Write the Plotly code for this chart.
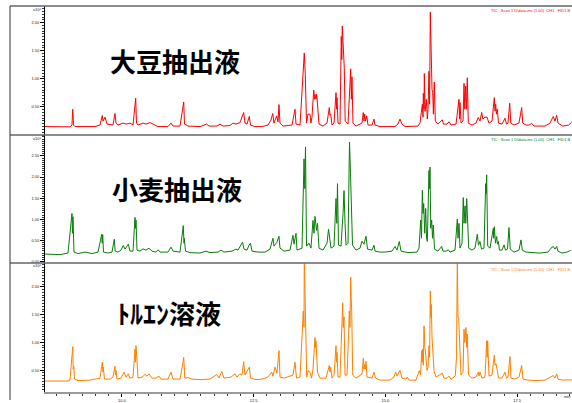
import plotly.graph_objects as go

# ---- chromatogram data: retention time (min) and intensity (x10^6 counts) ----
rt_soy = [8.540, 9.014, 9.052, 9.066, 9.081, 9.109, 9.489, 9.584, 9.627, 9.641, 9.679, 9.717, 9.830, 9.868, 9.887,
          9.925, 10.020, 10.077, 10.153, 10.210, 10.261, 10.276, 10.305, 10.400, 10.456, 10.532, 10.589, 10.684,
          10.874, 10.931, 10.969, 11.102, 11.172, 11.187, 11.254, 11.481, 11.608, 11.652, 11.804, 11.861, 11.918,
          12.050, 12.107, 12.164, 12.240, 12.310, 12.335, 12.373, 12.417, 12.439, 12.525, 12.658, 12.771, 12.828,
          12.861, 12.885, 12.937, 12.961, 12.980, 12.999, 13.056, 13.227, 13.284, 13.303, 13.379, 13.460, 13.479,
          13.502, 13.530, 13.568, 13.587, 13.606, 13.639, 13.654, 13.663, 13.682, 13.696, 13.711, 13.739, 13.815,
          13.891, 13.935, 13.948, 13.961, 13.986, 14.024, 14.062, 14.074, 14.081, 14.100, 14.138, 14.162, 14.172,
          14.181, 14.195, 14.208, 14.219, 14.236, 14.290, 14.341, 14.353, 14.365, 14.384, 14.441, 14.555, 14.580,
          14.593, 14.606, 14.622, 14.644, 14.669, 14.745, 14.783, 14.802, 14.897, 15.181, 15.238, 15.276, 15.314,
          15.371, 15.504, 15.618, 15.656, 15.700, 15.713, 15.719, 15.732, 15.738, 15.751, 15.776, 15.795, 15.808,
          15.826, 15.838, 15.851, 15.861, 15.870, 15.884, 15.897, 15.910, 15.927, 15.946, 15.997, 16.079, 16.102,
          16.168, 16.206, 16.244, 16.339, 16.396, 16.405, 16.415, 16.434, 16.472, 16.491, 16.506, 16.523, 16.538,
          16.553, 16.572, 16.642, 16.718, 16.762, 16.794, 16.826, 16.851, 16.889, 16.927, 16.965, 17.022, 17.066,
          17.079, 17.092, 17.107, 17.123, 17.145, 17.212, 17.269, 17.297, 17.325, 17.358, 17.379, 17.440, 17.534,
          17.585, 17.606, 17.667, 17.724, 17.775, 17.819, 18.028, 18.122, 18.185, 18.217, 18.249, 18.274, 18.363,
          18.477, 18.534]
int_soy = [0.150, 0.145, 0.177, 0.459, 0.177, 0.150, 0.150, 0.177, 0.348, 0.247, 0.318, 0.194, 0.177, 0.383, 0.212,
           0.177, 0.212, 0.194, 0.212, 0.177, 0.654, 0.212, 0.177, 0.212, 0.194, 0.221, 0.194, 0.150,
           0.150, 0.212, 0.159, 0.159, 0.588, 0.194, 0.159, 0.150, 0.194, 0.159, 0.159, 0.194, 0.159,
           0.168, 0.212, 0.194, 0.221, 0.401, 0.212, 0.194, 0.330, 0.177, 0.150, 0.150, 0.177, 0.265,
           0.383, 0.212, 0.341, 0.230, 0.542, 0.212, 0.159, 0.177, 0.459, 0.194, 0.177, 1.461, 1.078,
           0.212, 0.371, 0.371, 0.212, 0.318, 0.800, 0.636, 0.724, 0.636, 0.724, 0.459, 0.194, 0.159,
           0.212, 0.489, 0.353, 0.371, 0.177, 0.212, 0.754, 0.459, 0.666, 0.212, 0.194, 1.754, 1.343,
           1.943, 1.608, 1.373, 1.196, 0.247, 0.194, 1.178, 0.636, 1.037, 0.212, 0.159, 0.212, 0.401,
           0.247, 0.371, 0.247, 0.341, 0.177, 0.177, 0.283, 0.177, 0.150, 0.150, 0.194, 0.283, 0.194,
           0.150, 0.150, 0.159, 0.212, 0.548, 0.318, 0.742, 0.459, 1.095, 0.424, 0.636, 0.283, 0.459,
           1.136, 0.548, 2.186, 1.696, 1.873, 0.813, 0.754, 0.371, 0.942, 0.247, 0.194, 0.270, 0.194,
           0.194, 0.235, 0.177, 0.194, 0.636, 0.283, 0.578, 0.212, 0.247, 0.919, 0.459, 0.871, 0.459,
           1.019, 0.212, 0.177, 0.212, 0.313, 0.247, 0.401, 0.283, 0.318, 0.318, 0.212, 0.247, 0.666,
           0.424, 0.548, 0.371, 0.459, 0.212, 0.194, 0.300, 0.194, 0.212, 0.565, 0.212, 0.177, 0.212,
           0.489, 0.212, 0.177, 0.177, 0.207, 0.159, 0.159, 0.212, 0.330, 0.247, 0.353, 0.212, 0.159,
           0.177, 0.230]

rt_wheat = [8.540, 8.825, 8.976, 9.052, 9.062, 9.071, 9.090, 9.166, 9.299, 9.432, 9.546, 9.616, 9.626, 9.635, 9.650,
            9.735, 9.811, 9.855, 9.872, 9.925, 9.982, 10.026, 10.058, 10.121, 10.153, 10.210, 10.248, 10.257,
            10.267, 10.286, 10.343, 10.400, 10.456, 10.513, 10.570, 10.646, 10.690, 10.722, 10.874, 10.931,
            10.969, 11.102, 11.164, 11.178, 11.183, 11.206, 11.291, 11.481, 11.595, 11.671, 11.823, 11.880,
            11.937, 12.088, 12.164, 12.202, 12.259, 12.288, 12.316, 12.373, 12.411, 12.439, 12.468, 12.582,
            12.715, 12.809, 12.866, 12.885, 12.942, 12.980, 12.999, 13.075, 13.189, 13.246, 13.265, 13.303,
            13.322, 13.417, 13.455, 13.470, 13.483, 13.502, 13.549, 13.587, 13.625, 13.644, 13.663, 13.692,
            13.711, 13.739, 13.815, 13.891, 13.920, 13.939, 13.967, 14.024, 14.062, 14.077, 14.090, 14.109,
            14.157, 14.195, 14.214, 14.233, 14.252, 14.290, 14.318, 14.337, 14.356, 14.375, 14.441, 14.517,
            14.555, 14.593, 14.631, 14.660, 14.745, 14.783, 14.802, 14.897, 14.992, 15.124, 15.181, 15.219,
            15.263, 15.295, 15.428, 15.599, 15.637, 15.669, 15.684, 15.700, 15.713, 15.726, 15.745, 15.764,
            15.780, 15.795, 15.826, 15.836, 15.845, 15.860, 15.877, 15.893, 15.908, 15.931, 15.997, 16.067,
            16.092, 16.149, 16.193, 16.225, 16.320, 16.364, 16.377, 16.396, 16.415, 16.453, 16.477, 16.491,
            16.510, 16.525, 16.542, 16.551, 16.561, 16.580, 16.642, 16.699, 16.743, 16.765, 16.794, 16.823,
            16.870, 16.902, 16.912, 16.921, 16.940, 16.984, 17.047, 17.056, 17.066, 17.088, 17.111, 17.126,
            17.142, 17.164, 17.212, 17.250, 17.278, 17.316, 17.344, 17.369, 17.440, 17.534, 17.572, 17.597,
            17.667, 17.762, 17.838, 17.933, 18.085, 18.142, 18.186, 18.217, 18.249, 18.274, 18.350, 18.445,
            18.515]
int_wheat = [0.176, 0.164, 0.200, 1.138, 0.669, 1.061, 0.223, 0.188, 0.223, 0.188, 0.223, 0.646, 0.434, 0.634, 0.223,
             0.200, 0.223, 0.528, 0.246, 0.223, 0.270, 0.380, 0.293, 0.411, 0.246, 0.246, 1.045, 0.786,
             0.981, 0.270, 0.246, 0.300, 0.270, 0.317, 0.246, 0.223, 0.277, 0.223, 0.223, 0.340,
             0.246, 0.223, 0.850, 0.434, 0.552, 0.246, 0.211, 0.200, 0.246, 0.211, 0.223, 0.270,
             0.223, 0.246, 0.293, 0.270, 0.387, 0.458, 0.293, 0.270, 0.387, 0.434, 0.246, 0.223,
             0.223, 0.293, 0.552, 0.364, 0.458, 0.599, 0.317, 0.246, 0.270, 0.622, 0.411, 0.669,
             0.270, 0.317, 2.430, 1.725, 2.711, 0.364, 0.434, 0.317, 0.974, 0.669, 1.068, 0.739,
             0.904, 0.317, 0.270, 0.434, 0.763, 0.552, 0.317, 0.364, 1.491, 0.904, 1.843, 0.387,
             0.364, 1.138, 1.678, 0.904, 0.387, 0.434, 2.829, 2.077, 1.373, 0.387, 0.270, 0.317,
             0.481, 0.411, 0.599, 0.293, 0.270, 0.387, 0.246, 0.223, 0.223, 0.246, 0.357, 0.270,
             0.474, 0.246, 0.211, 0.223, 0.317, 0.981, 0.552, 1.685, 1.138, 1.373, 0.669, 1.256,
             0.552, 0.474, 2.155, 1.725, 2.235, 0.786, 0.981, 0.552, 0.864, 0.293, 0.246, 0.357,
             0.246, 0.246, 0.277, 0.223, 0.270, 1.005, 0.552, 0.904, 0.317, 0.434, 1.514, 0.904,
             1.319, 0.904, 1.491, 1.138, 1.256, 0.317, 0.270, 0.317, 0.646, 0.387, 0.474, 0.293,
             0.317, 1.843, 1.608, 2.054, 0.364, 0.317, 0.786, 0.552, 0.826, 0.434, 0.592, 0.411,
             0.474, 0.270, 0.270, 0.394, 0.270, 0.293, 0.803, 0.293, 0.223, 0.270, 0.512, 0.270,
             0.223, 0.211, 0.200, 0.200, 0.223, 0.317, 0.357, 0.293, 0.357, 0.246, 0.200, 0.223,
             0.263]

rt_toluene = [8.540, 8.976, 9.014, 9.052, 9.066, 9.075, 9.085, 9.100, 9.166, 9.394, 9.584, 9.627, 9.641, 9.646, 9.669,
              9.774, 9.830, 9.868, 9.878, 9.887, 9.906, 9.982, 10.039, 10.077, 10.121, 10.153, 10.210, 10.248,
              10.257, 10.267, 10.286, 10.305, 10.381, 10.438, 10.475, 10.513, 10.570, 10.646, 10.703, 10.741,
              10.874, 10.931, 10.969, 11.102, 11.159, 11.172, 11.193, 11.254, 11.329, 11.481, 11.671, 11.798,
              11.842, 11.893, 11.937, 12.069, 12.145, 12.183, 12.240, 12.278, 12.310, 12.335, 12.417, 12.439,
              12.544, 12.658, 12.771, 12.842, 12.866, 12.904, 12.942, 12.980, 12.999, 13.075, 13.246, 13.284,
              13.312, 13.379, 13.441, 13.455, 13.460, 13.472, 13.487, 13.506, 13.537, 13.568, 13.597, 13.625,
              13.644, 13.663, 13.673, 13.682, 13.711, 13.758, 13.872, 13.935, 13.948, 13.961, 13.986, 14.024,
              14.062, 14.071, 14.081, 14.100, 14.138, 14.162, 14.176, 14.189, 14.200, 14.214, 14.233, 14.271,
              14.299, 14.314, 14.327, 14.341, 14.350, 14.360, 14.379, 14.441, 14.555, 14.580, 14.593, 14.606,
              14.618, 14.631, 14.650, 14.745, 14.783, 14.811, 14.897, 15.086, 15.162, 15.194, 15.219, 15.276,
              15.314, 15.390, 15.415, 15.447, 15.580, 15.643, 15.666, 15.689, 15.698, 15.708, 15.719, 15.732,
              15.747, 15.764, 15.789, 15.808, 15.826, 15.838, 15.851, 15.861, 15.870, 15.884, 15.897, 15.921,
              15.959, 16.079, 16.111, 16.168, 16.206, 16.244, 16.301, 16.326, 16.349, 16.364, 16.377, 16.390,
              16.415, 16.434, 16.472, 16.491, 16.506, 16.529, 16.542, 16.553, 16.576, 16.642, 16.718, 16.762,
              16.775, 16.794, 16.832, 16.889, 16.921, 16.931, 16.940, 16.965, 17.022, 17.066, 17.079, 17.098,
              17.123, 17.145, 17.212, 17.269, 17.297, 17.325, 17.363, 17.382, 17.458, 17.534, 17.585, 17.610,
              17.705, 17.838, 18.028, 18.122, 18.185, 18.217, 18.249, 18.274, 18.363, 18.496, 18.540]
int_toluene = [0.304, 0.304, 0.321, 0.732, 0.923, 0.518, 0.571, 0.339, 0.313, 0.321, 0.357, 0.643, 0.464, 0.554, 0.339,
               0.339, 0.375, 0.571, 0.411, 0.495, 0.339, 0.357, 0.464, 0.375, 0.434, 0.357, 0.375, 0.880,
               0.643, 0.941, 0.673, 0.357, 0.375, 0.423, 0.393, 0.434, 0.357, 0.357, 0.393, 0.339,
               0.339, 0.464, 0.339, 0.339, 0.643, 0.732, 0.357, 0.366, 0.339, 0.330, 0.339, 0.423,
               0.357, 0.477, 0.357, 0.375, 0.434, 0.375, 0.434, 0.411, 0.655, 0.411, 0.554, 0.357,
               0.330, 0.339, 0.375, 0.464, 0.393, 0.554, 0.446, 0.852, 0.375, 0.357, 0.411, 0.643,
               0.357, 0.375, 1.566, 1.268, 2.554, 1.804, 1.179, 0.375, 0.495, 0.464, 0.357, 0.518,
               0.791, 1.089, 0.911, 1.030, 0.464, 0.357, 0.357, 0.584, 0.464, 0.554, 0.357, 0.411,
               0.941, 0.643, 0.821, 0.375, 0.375, 0.880, 1.268, 1.714, 1.268, 1.459, 0.411, 0.411,
               1.089, 1.566, 1.268, 2.173, 1.804, 1.566, 0.411, 0.357, 0.429, 0.714, 0.518, 0.602,
               0.518, 0.661, 0.375, 0.357, 0.464, 0.357, 0.321, 0.321, 0.375, 0.464, 0.393, 0.495,
               0.357, 0.339, 0.375, 0.321, 0.321, 0.495, 0.411, 0.852, 0.643, 0.880, 0.589, 1.298,
               0.911, 0.791, 0.495, 0.554, 0.941, 0.732, 1.923, 1.446, 1.684, 1.089, 0.821, 0.495,
               0.375, 0.446, 0.357, 0.357, 0.393, 0.339, 0.375, 0.405, 0.732, 2.554, 1.446, 1.446,
               0.852, 0.411, 0.464, 1.238, 1.000, 1.268, 0.911, 1.148, 0.411, 0.357, 0.375, 0.464,
               0.393, 0.464, 0.357, 0.375, 1.030, 0.732, 1.030, 0.393, 0.411, 0.773, 0.589, 0.613,
               0.495, 0.357, 0.357, 0.464, 0.357, 0.375, 0.745, 0.357, 0.339, 0.375, 0.584, 0.339,
               0.321, 0.313, 0.321, 0.375, 0.405, 0.357, 0.434, 0.339, 0.321, 0.327, 0.321]

sample_names = ["大豆抽出液", "小麦抽出液", "ﾄﾙｴﾝ溶液"]
header_text = "TIC : Scan 1 D\\data.ms (1.00)  CH1 : FID1 B"
scale_text = "x10⁶"

time_ticks = [10.0, 12.5, 15.0, 17.5]
time_labels = ["10.0", "12.5", "15.0", "17.5"]
y_ticks_top = [0.5, 1.0, 1.5, 2.0]
y_ticks_mid = [0.0, 0.5, 1.0, 1.5, 2.0, 2.5]
y_ticks_bot = [0.5, 1.0, 1.5, 2.0]

# ---- figure ----
W, H = 572, 403
ML, MR, MT, MB = 45, 0, 6, 8
plot_h = H - MT - MB
plot_w = W - ML - MR


def py(pix):
    """pixel row -> paper y"""
    return (H - MB - pix) / plot_h


def px(pix):
    """pixel column -> paper x"""
    return (pix - ML) / plot_w


colors = ["#ff0000", "#0a7d0a", "#ff8000"]
series = [(rt_soy, int_soy), (rt_wheat, int_wheat), (rt_toluene, int_toluene)]
domains = [[py(136), 1.0], [py(265), py(136)], [0.0, py(265)]]
yranges = [[0.0, 2.297], [-0.035, 2.995], [0.107, 2.429]]
yticks = [y_ticks_top, y_ticks_mid, y_ticks_bot]

fig = go.Figure()
for i, ((t, v), c) in enumerate(zip(series, colors)):
    suffix = "" if i == 0 else str(i + 1)
    fig.add_trace(go.Scatter(
        x=t, y=v, mode="lines",
        line=dict(color=c, width=1),
        xaxis="x" + suffix, yaxis="y" + suffix,
        showlegend=False, hoverinfo="skip",
    ))

layout = dict(
    width=W, height=H,
    margin=dict(l=ML, r=MR, t=MT, b=MB),
    paper_bgcolor="white", plot_bgcolor="white",
    font=dict(family="Liberation Sans, Arial, sans-serif", color="black"),
)

for i in range(3):
    suffix = "" if i == 0 else str(i + 1)
    xa = dict(
        range=[8.54, 18.54], anchor="y" + suffix, showgrid=False, zeroline=False,
    )
    if i > 0:
        xa["matches"] = "x"
    if i == 2:
        xa.update(
            showline=True, linecolor="#9a9a9a", linewidth=2,
            ticks="outside", ticklen=3, tickcolor="black", tickwidth=1,
            tickmode="array", tickvals=time_ticks, ticktext=time_labels,
            tickfont=dict(size=4, color="#222"),
            minor=dict(tickmode="linear", tick0=10.0, dtick=0.25, ticks="outside",
                       ticklen=2, tickcolor="#333", tickwidth=1),
        )
    else:
        xa.update(showline=False, ticks="", showticklabels=False)
    layout["xaxis" + suffix] = xa

    tv = yticks[i]
    layout["yaxis" + suffix] = dict(
        domain=domains[i], range=yranges[i], anchor="x" + suffix,
        showgrid=False, zeroline=False,
        showline=True, linecolor="black", linewidth=1,
        ticks="outside", ticklen=4, tickcolor="black", tickwidth=1,
        tickmode="array", tickvals=tv, ticktext=[f"{val:.2f}" for val in tv],
        tickfont=dict(size=4, color="#222"),
        minor=dict(tickmode="linear", tick0=0.0, dtick=0.05, ticks="outside",
                   ticklen=2, tickcolor="#333", tickwidth=1),
    )

fig.update_layout(**layout)

# frame and panel separators
left_x = px(10)
shapes = [
    dict(type="line", xref="paper", yref="paper", x0=left_x, x1=1, y0=1, y1=1,
         line=dict(color="#666", width=1.5)),
    dict(type="line", xref="paper", yref="paper", x0=left_x, x1=1, y0=py(136), y1=py(136),
         line=dict(color="#666", width=1.5)),
    dict(type="line", xref="paper", yref="paper", x0=left_x, x1=1, y0=py(265), y1=py(265),
         line=dict(color="#666", width=1.5)),
    dict(type="line", xref="paper", yref="paper", x0=left_x, x1=left_x, y0=py(403), y1=1,
         line=dict(color="#333", width=1)),
]
fig.update_layout(shapes=shapes)

annotations = []
name_pos = [(108, 61), (110, 190), (115, 315)]
head_rows = [11, 141, 272]
scale_rows = [10, 140, 268]
for i in range(3):
    nx, ny = name_pos[i]
    annotations.append(dict(
        text=sample_names[i], xref="paper", yref="paper", x=px(nx), y=py(ny),
        xanchor="left", yanchor="middle", showarrow=False,
        font=dict(family="Noto Sans CJK JP", size=26, color="black", weight="bold"),
    ))
    annotations.append(dict(
        text=header_text, xref="paper", yref="paper", x=1.0, y=py(head_rows[i]),
        xanchor="right", yanchor="middle", showarrow=False,
        font=dict(size=4, color=colors[i]),
    ))
    annotations.append(dict(
        text=scale_text, xref="paper", yref="paper", x=px(43), y=py(scale_rows[i]),
        xanchor="right", yanchor="middle", showarrow=False,
        font=dict(size=4, color="#222"),
    ))
annotations.append(dict(
    text="min", xref="paper", yref="paper", x=1.0, y=py(400),
    xanchor="right", yanchor="middle", showarrow=False,
    font=dict(size=4, color="#222"),
))
fig.update_layout(annotations=annotations)

fig.write_html("out.html")
